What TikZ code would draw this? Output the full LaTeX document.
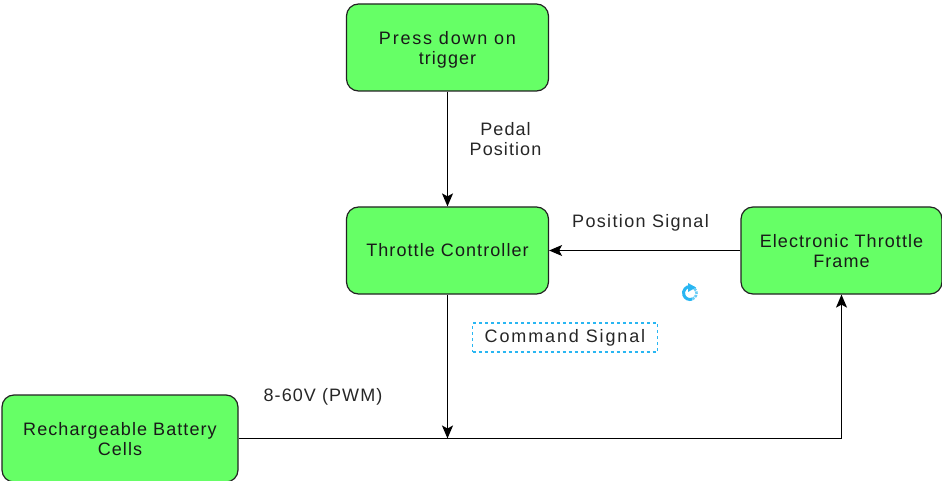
\documentclass[tikz,border=0pt]{standalone}
\usepackage{fontspec}
\setmainfont[LetterSpace=6]{Liberation Sans}
\usetikzlibrary{arrows.meta}
\definecolor{boxgreen}{HTML}{66FF66}
\definecolor{selblue}{HTML}{29B6F2}
\definecolor{inkgrey}{HTML}{222222}
\newcommand\dropline[1]{\rule{0pt}{#1}}
\newcommand\widerline[2]{{\addfontfeatures{LetterSpace=#1}#2}}
\tikzset{
  flowbox/.style={draw=inkgrey,fill=boxgreen,line width=1.2pt,rounded corners=12pt,align=center,inner sep=0pt,font=\fontsize{18}{20}\selectfont,text=black!90},
  flowline/.style={draw=black,line width=1.2pt,-{Stealth[length=13pt,width=11pt,inset=3pt]}},
  plainlabel/.style={align=center,inner sep=0pt,font=\fontsize{18}{20}\selectfont,text=black!85}
}
\begin{document}
\begin{tikzpicture}[x=1pt,y=-1pt]
\useasboundingbox (0,0) rectangle (942,481);
\node[flowbox,minimum width=202pt,minimum height=87pt] (press) at (447.5,47.5) {\dropline{17pt}\widerline{10}{Press down on}\\trigger};
\node[flowbox,minimum width=202pt,minimum height=87pt] (ctrl) at (447.5,250.5) {Throttle Controller};
\node[flowbox,minimum width=201pt,minimum height=87pt] (frame) at (841.5,250.5) {\dropline{14pt}Electronic Throttle\\Frame};
\node[flowbox,minimum width=236pt,minimum height=87pt] (bat) at (120,438.5) {\dropline{15pt}Rechargeable Battery\\Cells};
\coordinate (junction) at (447.5,438.5);
\draw[flowline] (press) -- (ctrl);
\draw[flowline] (frame) -- (ctrl);
\draw[flowline] (ctrl) -- (junction);
\draw[flowline] (bat.east) -- (frame.south |- bat.east) -- (frame.south);
\node[plainlabel] (pedal) at (505.5,139) {Pedal\\Position};
\node[plainlabel] (possig) at (640.5,223) {\widerline{7.5}{Position Signal}};
\node[plainlabel] (volt) at (323,396.5) {8-60V (PWM)};
\node[plainlabel,draw=selblue,dash pattern=on 3pt off 3pt,line width=1.1pt,minimum width=185pt,minimum height=29pt,text depth=4pt,text height=13pt] (cmd) at (565,337.5) {\widerline{10.4}{Command Signal}};
\coordinate (icon) at (690,293);
\draw[selblue,line width=3pt] ([shift={(-70:6.5pt)}]icon) arc[start angle=-70,end angle=-270,radius=6.5pt];
\draw[selblue!70,line width=2.6pt,dash pattern=on 2.5pt off 1pt] ([shift={(-70:6.5pt)}]icon) arc[start angle=-70,end angle=90,radius=6.5pt];
\fill[selblue] (688,283) -- (696,287.5) -- (688,292) -- cycle;
\end{tikzpicture}
\end{document}
